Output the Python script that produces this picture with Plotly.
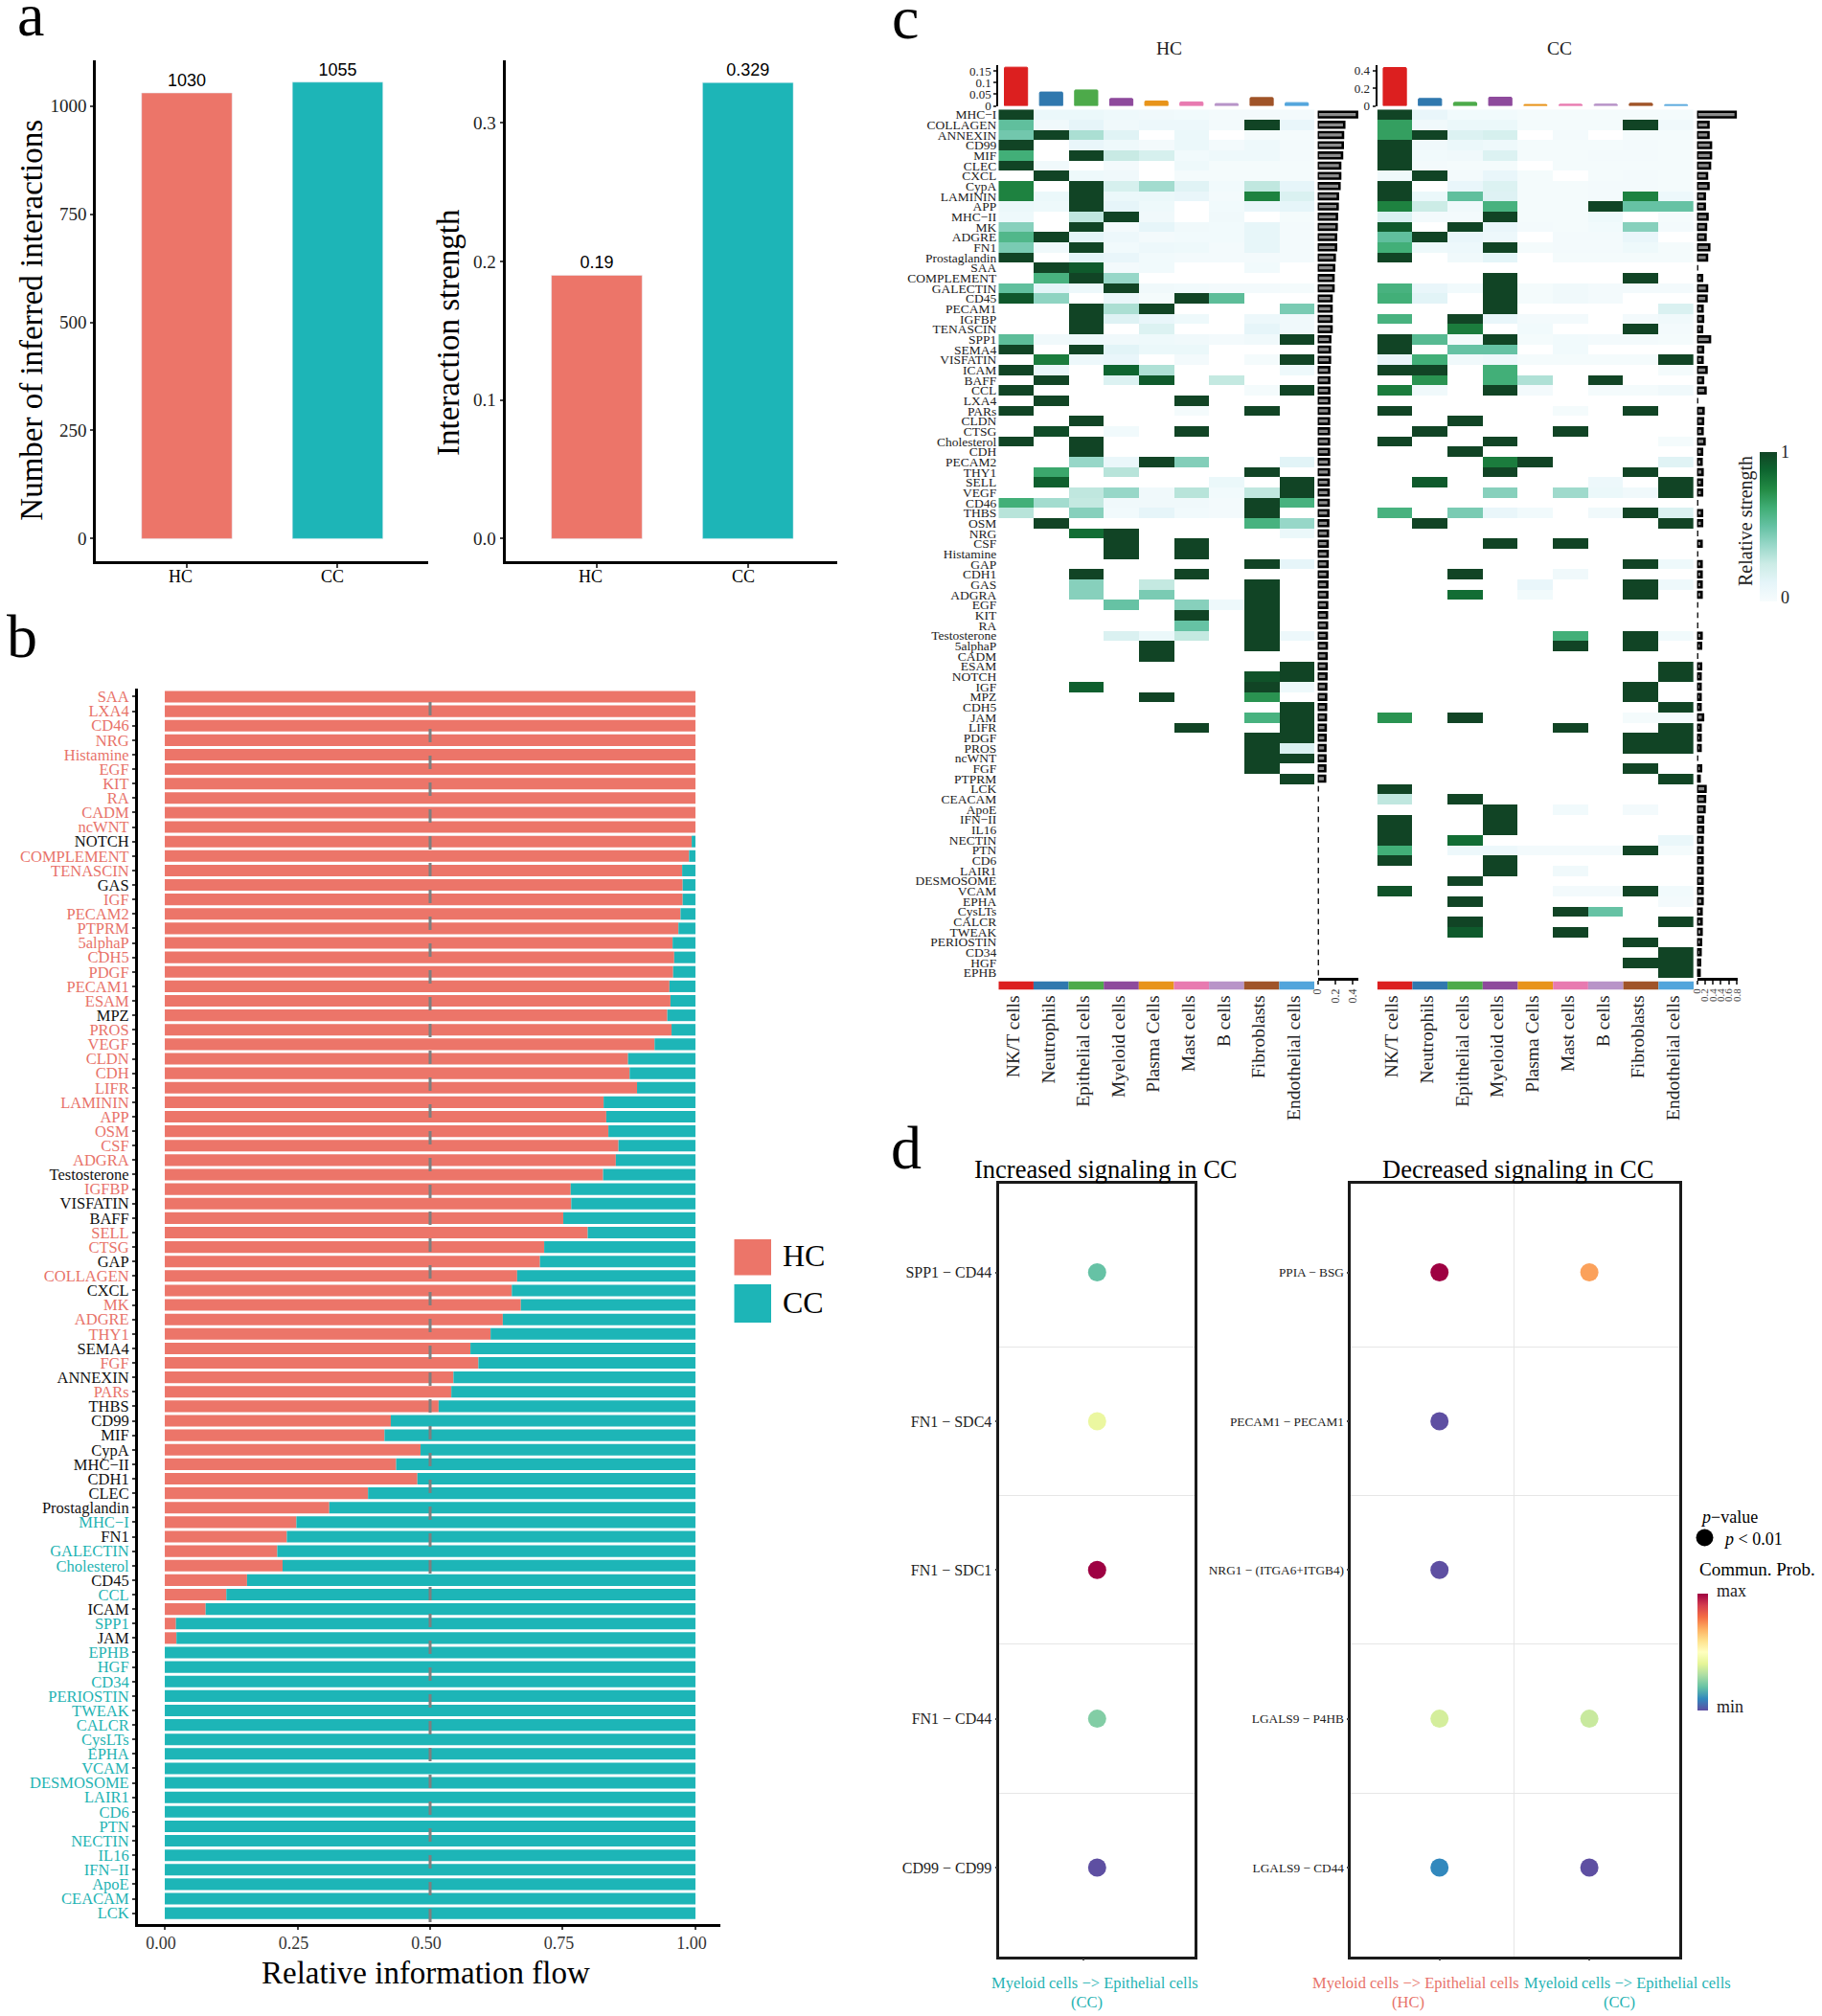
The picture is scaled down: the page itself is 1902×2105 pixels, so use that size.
import plotly.graph_objects as go

W, H = 1902, 2105
n = None
SERIF = "Liberation Serif"
SANS = "Liberation Sans"
RED = "#EC7569"
TEAL = "#1DB5B7"
LABEL_RED = "#E8736A"
LABEL_TEAL = "#1FB3B3"
HEAT_SCALE = [[0, "#F7FCFD"], [.125, "#E5F5F9"], [.25, "#CCECE6"], [.375, "#99D8C9"], [.5, "#66C2A4"],
              [.625, "#41AE76"], [.75, "#238B45"], [.875, "#0E6630"], [1, "#114425"]]

# ---------- panel a ----------
groups = ["HC", "CC"]
n_interactions = [1030, 1055]
strength = [0.19, 0.329]

# ---------- panel b ----------
flow_names = ["SAA","LXA4","CD46","NRG","Histamine","EGF","KIT","RA","CADM","ncWNT","NOTCH","COMPLEMENT","TENASCIN","GAS","IGF","PECAM2","PTPRM","5alphaP","CDH5","PDGF","PECAM1","ESAM","MPZ","PROS","VEGF","CLDN","CDH","LIFR","LAMININ","APP","OSM","CSF","ADGRA","Testosterone","IGFBP","VISFATIN","BAFF","SELL","CTSG","GAP","COLLAGEN","CXCL","MK","ADGRE","THY1","SEMA4","FGF","ANNEXIN","PARs","THBS","CD99","MIF","CypA","MHC−II","CDH1","CLEC","Prostaglandin","MHC−I","FN1","GALECTIN","Cholesterol","CD45","CCL","ICAM","SPP1","JAM","EPHB","HGF","CD34","PERIOSTIN","TWEAK","CALCR","CysLTs","EPHA","VCAM","DESMOSOME","LAIR1","CD6","PTN","NECTIN","IL16","IFN−II","ApoE","CEACAM","LCK"]
flow_hc = [1,1,1,1,1,1,1,1,1,1,.993,.988,.975,.976,.976,.972,.968,.957,.96,.958,.951,.953,.947,.955,.923,.873,.876,.89,.827,.832,.836,.855,.85,.826,.765,.766,.751,.797,.715,.707,.664,.654,.671,.637,.614,.576,.591,.544,.54,.516,.426,.414,.482,.436,.476,.383,.31,.248,.23,.212,.222,.155,.116,.077,.021,.022,0,0,0,0,0,0,0,0,0,0,0,0,0,0,0,0,0,0,0]
flow_cc = [0,0,0,0,0,0,0,0,0,0,.007,.012,.025,.024,.024,.028,.032,.043,.04,.042,.049,.047,.053,.045,.077,.127,.124,.11,.173,.168,.164,.145,.15,.174,.235,.234,.249,.203,.285,.293,.336,.346,.329,.363,.386,.424,.409,.456,.46,.484,.574,.586,.518,.564,.524,.617,.69,.752,.77,.788,.778,.845,.884,.923,.979,.978,1,1,1,1,1,1,1,1,1,1,1,1,1,1,1,1,1,1,1]
black_labels = {"NOTCH","GAS","MPZ","Testosterone","VISFATIN","BAFF","GAP","CXCL","SEMA4","ANNEXIN","THBS","CD99","MIF","CypA","MHC−II","CDH1","CLEC","Prostaglandin","FN1","CD45","ICAM","JAM"}

# ---------- panel c ----------
cell_types = ["NK/T cells","Neutrophils","Epithelial cells","Myeloid cells","Plasma Cells","Mast cells","B cells","Fibroblasts","Endothelial cells"]
cell_colors = ["#DC1F1F","#3078AE","#4DAA4A","#8E4A9C","#E8941A","#E87AB0","#B894C8","#A05428","#52A5DC"]
top_hc = [.168,.06,.069,.032,.021,.017,.01,.036,.014]
top_cc = [.436,.084,.04,.098,.015,.018,.02,.03,.014]
path_names = ["MHC−I","COLLAGEN","ANNEXIN","CD99","MIF","CLEC","CXCL","CypA","LAMININ","APP","MHC−II","MK","ADGRE","FN1","Prostaglandin","SAA","COMPLEMENT","GALECTIN","CD45","PECAM1","IGFBP","TENASCIN","SPP1","SEMA4","VISFATIN","ICAM","BAFF","CCL","LXA4","PARs","CLDN","CTSG","Cholesterol","CDH","PECAM2","THY1","SELL","VEGF","CD46","THBS","OSM","NRG","CSF","Histamine","GAP","CDH1","GAS","ADGRA","EGF","KIT","RA","Testosterone","5alphaP","CADM","ESAM","NOTCH","IGF","MPZ","CDH5","JAM","LIFR","PDGF","PROS","ncWNT","FGF","PTPRM","LCK","CEACAM","ApoE","IFN−II","IL16","NECTIN","PTN","CD6","LAIR1","DESMOSOME","VCAM","EPHA","CysLTs","CALCR","TWEAK","PERIOSTIN","CD34","HGF","EPHB"]
side_hc = [.445,.3,.286,.283,.275,.254,.254,.246,.228,.225,.217,.214,.207,.207,.192,.185,.178,.178,.156,.156,.156,.156,.141,.138,.138,.13,.13,.13,.13,.13,.127,.127,.127,.127,.127,.127,.123,.123,.123,.12,.118,.115,.112,.112,.11,.11,.108,.108,.106,.104,.104,.102,.102,.1,.1,.098,.096,.095,.094,.092,.09,.088,.086,.086,.085,.083,0,0,0,0,0,0,0,0,0,0,0,0,0,0,0,0,0,0,0]
side_cc = [.78,.23,.23,.28,.28,.26,.2,.23,.155,.155,.21,.18,.17,.245,.2,0,.1,.2,.19,.11,.12,.1,.26,.12,.11,.19,.12,.17,0,.13,.12,.11,.15,.1,.09,.11,.1,.1,0,.1,.1,0,.09,0,.09,.09,.09,.09,0,0,0,.09,.08,0,.08,.07,.07,.07,.07,.12,.07,.07,.07,0,.08,.05,.17,.16,.15,.12,.12,.11,.11,.11,.11,.11,.11,.11,.09,.09,.09,.08,.07,.06,.05]
heat_hc = [
 [1,.08,.08,.06,.05,.04,.03,.03,.03],[.52,.05,.12,.05,.07,.07,.03,1,.10],[.47,1,.33,.15,n,.08,n,.02,.02],
 [1,n,.1,.06,.03,.08,.03,.06,.03],[.62,n,1,.26,.2,.04,.06,.06,.03],[1,.05,n,.03,n,.06,.02,.02,.02],
 [n,1,.06,.05,n,.02,.02,.02,.02],[.78,n,1,.2,.35,.15,.04,.28,.12],[.78,.08,1,.08,.08,.1,.03,.78,.18],
 [.08,.06,1,.12,.06,n,.04,.1,.12],[.06,n,.28,1,.05,n,.05,n,.02],[.42,n,1,.03,.12,.05,.04,.11,.03],
 [.57,1,.13,.07,.03,.04,.04,.11,.03],[.45,.05,1,.04,.07,.06,.03,.11,.03],[1,n,.13,.1,.04,.03,.03,.03,.03],
 [n,1,.92,.03,.04,n,n,.04,n],[n,.6,1,.38,n,n,n,n,n],[.52,.13,.07,1,.05,.04,.03,.03,.02],
 [.93,.4,n,.09,.02,1,.53,n,n],[n,n,1,.33,1,n,n,n,.45],[n,n,1,.16,.1,.06,n,.07,.05],
 [n,n,1,n,.17,n,n,.12,.05],[.53,.05,.06,.05,.06,.05,.03,.05,1],[1,n,1,.14,.08,.08,n,n,n],
 [n,.8,.07,.1,n,.03,n,.02,1],[1,.09,n,.88,.32,n,n,n,.06],[n,1,n,.17,.92,n,.27,n,n],
 [1,n,n,n,n,n,n,.02,1],[n,1,n,n,n,1,n,n,n],[1,n,n,n,n,.02,n,1,n],
 [n,n,1,n,n,n,n,n,n],[n,.97,n,.04,n,1,n,n,n],[1,n,1,n,n,n,n,n,n],
 [n,n,1,n,n,n,n,n,n],[n,n,.38,.09,1,.43,n,n,.14],[n,.65,n,.3,n,n,n,1,n],
 [n,.9,n,n,n,n,.08,n,1],[n,n,.28,.38,.05,.3,.04,.28,1],[.62,.35,.27,.05,.05,.05,.03,1,.6],
 [.3,n,.42,.04,.12,.04,.03,1,n],[n,1,n,n,n,n,n,.6,.38],[n,n,.85,1,n,n,n,n,.08],
 [n,n,n,1,n,1,n,n,n],[n,n,n,1,n,1,n,n,n],[n,n,n,n,n,n,n,1,.12],
 [n,n,1,n,n,1,n,n,n],[n,n,.42,n,.27,n,n,1,n],[n,n,.42,n,.45,n,n,1,n],
 [n,n,n,.5,n,.42,.06,1,n],[n,n,n,n,n,1,n,1,n],[n,n,n,n,n,.5,n,1,n],
 [n,n,n,.18,.08,.27,n,1,.07],[n,n,n,n,1,n,n,1,n],[n,n,n,n,1,n,n,n,n],
 [n,n,n,n,n,n,n,n,1],[n,n,n,n,n,n,n,.95,1],[n,n,.9,n,n,n,n,1,.06],
 [n,n,n,n,1,n,n,.72,n],[n,n,n,n,n,n,n,n,1],[n,n,n,n,n,n,n,.6,1],
 [n,n,n,n,n,1,n,n,1],[n,n,n,n,n,n,n,1,1],[n,n,n,n,n,n,n,1,.18],
 [n,n,n,n,n,n,n,1,1],[n,n,n,n,n,n,n,1,n],[n,n,n,n,n,n,n,n,1],
] + [[n]*9 for _ in range(19)]
heat_cc = [
 [1,.1,.04,.04,.02,.02,.02,.02,.02],[.68,.05,.08,.08,.02,.02,.02,1,.05],[.68,1,.17,.2,n,.03,n,.02,.02],
 [1,.05,.08,.06,.02,.02,.02,.03,.02],[1,.04,.05,.17,.02,.02,.03,.03,.02],[1,.03,.02,.02,n,.02,.02,.02,.02],
 [.05,1,.03,.1,.02,n,.02,.03,.02],[1,n,.1,.17,.02,.02,.03,.03,.02],[1,.08,.52,.16,.02,.02,.03,.78,.07],
 [.78,.25,.05,.6,.02,.02,1,.5,.5],[.18,.03,.03,1,.02,.02,.06,n,.02],[.92,n,1,.1,.03,.02,.04,.42,.03],
 [.52,1,.1,.07,n,.03,.03,.1,n],[.62,.06,.07,1,.02,.03,.03,.06,.02],[1,n,.05,.13,n,.02,.02,.02,.02],
 [n]*9,[n,n,n,1,n,n,n,1,n],[.6,.1,.04,1,.02,.05,.03,.03,.03],
 [.62,.14,n,1,.02,.05,.03,n,n],[n,n,n,1,n,n,n,n,.18],[.6,n,1,.1,.03,.03,n,.03,.05],
 [n,n,.8,n,.04,n,n,1,.03],[1,.55,.02,1,.02,.04,.03,.03,.02],[1,n,.5,.5,n,.04,n,n,n],
 [.1,.62,.05,.07,.02,.02,.02,.02,1],[1,1,n,.62,n,n,n,n,.02],[n,.72,n,.62,.32,n,1,n,n],
 [.8,.05,n,1,.03,n,.02,.02,.05],[n]*9,[1,n,n,n,n,.02,n,1,n],
 [n,n,1,n,n,n,n,n,n],[n,1,n,n,n,1,n,n,n],[1,n,n,1,n,n,n,n,.02],
 [n,n,1,n,n,n,n,n,n],[n,n,n,.8,1,n,n,n,.15],[n,n,n,1,n,n,n,1,n],
 [n,.92,n,n,n,n,.07,n,1],[n,n,n,.42,n,.36,.08,.05,1],[n]*9,
 [.6,n,.45,.1,.04,n,.05,1,.18],[n,1,n,n,n,n,n,n,1],[n]*9,
 [n,n,n,1,n,1,n,n,n],[n]*9,[n,n,n,n,n,n,n,1,.06],
 [n,n,1,n,n,.05,n,n,n],[n,n,n,n,.1,n,n,1,.06],[n,n,.85,n,.04,n,n,1,n],
 [n]*9,[n]*9,[n]*9,
 [n,n,n,n,n,.62,n,1,.04],[n,n,n,n,n,1,n,1,n],[n]*9,
 [n,n,n,n,n,n,n,n,1],[n,n,n,n,n,n,n,n,1],[n,n,n,n,n,n,n,1,n],
 [n,n,n,n,n,n,n,1,n],[n,n,n,n,n,n,n,n,1],[.72,n,1,n,n,n,n,.02,.02],
 [n,n,n,n,n,1,n,n,1],[n,n,n,n,n,n,n,1,1],[n,n,n,n,n,n,n,1,1],
 [n]*9,[n,n,n,n,n,n,n,1,n],[n,n,n,n,n,n,n,n,1],
 [1,n,n,n,n,n,n,n,n],[.28,n,1,n,n,n,n,n,n],[n,n,n,1,n,.04,n,.03,n],
 [1,n,n,1,n,n,n,n,n],[1,n,n,1,n,n,n,n,n],[1,n,.85,n,n,n,n,n,.09],
 [.62,n,.07,.07,.03,.03,.03,1,.02],[1,n,n,1,n,n,n,n,n],[n,n,n,1,n,.05,n,n,n],
 [n,n,1,n,n,n,n,n,n],[.95,n,n,n,n,.03,.03,1,.04],[n,n,1,n,n,n,n,n,.03],
 [n,n,n,n,n,1,.5,n,n],[n,n,1,n,n,n,n,n,1],[n,n,.92,n,n,1,n,n,n],
 [n,n,n,n,n,n,n,1,n],[n,n,n,n,n,n,n,n,1],[n,n,n,n,n,n,n,1,1],
 [n,n,n,n,n,n,n,n,1],
]

# ---------- panel d ----------
inc_pairs = ["SPP1 − CD44","FN1 − SDC4","FN1 − SDC1","FN1 − CD44","CD99 − CD99"]
inc_prob = [.2,.42,1,.24,0]
dec_pairs = ["PPIA − BSG","PECAM1 − PECAM1","NRG1 − (ITGA6+ITGB4)","LGALS9 − P4HB","LGALS9 − CD44"]
dec_hc_rows = [0,1,2,3,4]
dec_hc_prob = [1,0,0,.37,.1]
dec_cc_rows = [0,3,4]
dec_cc_prob = [.72,.35,0]

# ---------- helpers ----------
def dx(a, b): return [a / W, b / W]
def dy(top, bottom): return [1 - bottom / H, 1 - top / H]

layout = {}
annots = []
shapes = []

def T(text, x, y, size, color="black", angle=0, anchor="center", family=SERIF):
    annots.append(dict(text=text, x=x / W, y=1 - y / H, xref="paper", yref="paper", showarrow=False,
                       font=dict(size=size, color=color, family=family), textangle=angle,
                       xanchor=anchor, yanchor="middle"))

def ax(name, **kw):
    base = dict(showgrid=False, zeroline=False, ticks="", showticklabels=False, showline=False)
    base.update(kw)
    layout[name] = base

fig = go.Figure()

# ---- a1
ax("xaxis", domain=dx(100.4, 446.6), anchor="y", type="category", categoryorder="array", categoryarray=groups,
   range=[-.601, 1.598], showline=True, linewidth=3, linecolor="black", ticks="outside", ticklen=4, tickwidth=2)
ax("yaxis", domain=dy(63, 586), anchor="x", range=[-52.2, 1105.4], showline=True, linewidth=3, linecolor="black",
   ticks="outside", ticklen=3, tickwidth=2, showticklabels=True, tickmode="array", tickvals=[0, 250, 500, 750, 1000],
   tickfont=dict(size=19, color="#222"))
fig.add_bar(x=groups, y=n_interactions, marker_color=[RED, TEAL], width=.6, text=n_interactions, textposition="outside",
            cliponaxis=False, textfont=dict(size=18, family=SANS, color="black"), xaxis="x", yaxis="y")
T("HC", 188.3, 602, 18); T("CC", 347.3, 602, 18)
T("Number of inferred interactions", 32.7, 334, 33, angle=-90)

# ---- a2
ax("xaxis2", domain=dx(527.5, 874.3), anchor="y2", type="category", categoryorder="array", categoryarray=groups,
   range=[-.605, 1.593], showline=True, linewidth=3, linecolor="black", ticks="outside", ticklen=4, tickwidth=2)
ax("yaxis2", domain=dy(63, 586), anchor="x2", range=[-.0163, .3451], showline=True, linewidth=3, linecolor="black",
   ticks="outside", ticklen=3, tickwidth=2, showticklabels=True, tickmode="array", tickvals=[0, .1, .2, .3],
   ticktext=["0.0", "0.1", "0.2", "0.3"], tickfont=dict(size=19, color="#222"))
fig.add_bar(x=groups, y=strength, marker_color=[RED, TEAL], width=.6, text=strength, textposition="outside",
            cliponaxis=False, textfont=dict(size=18, family=SANS, color="black"), xaxis="x2", yaxis="y2")
T("HC", 616, 602, 18); T("CC", 775.5, 602, 18)
T("Interaction strength", 468, 347, 33, angle=-90)

# ---- b
ticktext_b = []
for i, nm in enumerate(flow_names):
    if nm in black_labels:
        c = "#111111"
    elif flow_hc[i] >= .5:
        c = LABEL_RED
    else:
        c = LABEL_TEAL
    ticktext_b.append('<span style="color:%s">%s</span>' % (c, nm))
ax("xaxis3", domain=dx(144, 752), anchor="y3", range=[-.0506, 1.047], showline=True, linewidth=3, linecolor="black",
   ticks="outside", ticklen=3, tickwidth=1.5, showticklabels=True, tickmode="array", tickvals=[0, .25, .5, .75, 1],
   ticktext=["0.00", "0.25", "0.50", "0.75", "1.00"], tickfont=dict(size=18, color="#333"), ticklabelshift=-4, ticklabelstandoff=-2)
ax("yaxis3", domain=dy(719, 2009), anchor="x3", type="category", categoryorder="array", categoryarray=flow_names,
   range=[84.75, -.56], showline=True, linewidth=3, linecolor="black", ticks="outside", ticklen=3, tickwidth=2,
   showticklabels=True, tickmode="array", tickvals=flow_names, ticktext=ticktext_b, tickfont=dict(size=16.5))
fig.add_bar(y=flow_names, x=flow_hc, orientation="h", marker=dict(color=RED, line_width=0), width=.8, xaxis="x3", yaxis="y3", name="HC")
fig.add_bar(y=flow_names, x=flow_cc, base=flow_hc, orientation="h", marker=dict(color=TEAL, line_width=0), width=.8, xaxis="x3", yaxis="y3", name="CC")
shapes.append(dict(type="line", xref="x3", yref="paper", x0=.5, x1=.5, y0=1 - 2007 / H, y1=1 - 722 / H,
                   line=dict(color="#7F7F7F", width=3, dash="14px,14px"), layer="above"))
T("Relative information flow", 444, 2060, 33)
shapes.append(dict(type="rect", xref="paper", yref="paper", x0=766.5 / W, x1=805 / W, y0=1 - 1331.5 / H, y1=1 - 1294 / H, fillcolor=RED, line_width=0))
shapes.append(dict(type="rect", xref="paper", yref="paper", x0=766.5 / W, x1=805 / W, y0=1 - 1381 / H, y1=1 - 1341 / H, fillcolor=TEAL, line_width=0))
T("HC", 815, 1311, 32, anchor="left"); T("CC", 815, 1360, 32, anchor="left")

# ---- c
def panel_c(idx, x0, x1, top, top_rng, top_ticks, top_text, heat, side, side_x1, side_rng, side_ticks, side_text, side_size, labels, showscale):
    xt, yt = "x%d" % idx, "y%d" % idx
    xh, yh = "x%d" % (idx + 1), "y%d" % (idx + 1)
    xs, ys = "x%d" % (idx + 2), "y%d" % (idx + 2)
    xa, ya = "x%d" % (idx + 3), "y%d" % (idx + 3)
    ax("xaxis%d" % idx, domain=dx(x0, x1), anchor=yt, range=[-.5, 8.5])
    ax("yaxis%d" % idx, domain=dy(68, 110.5), anchor=xt, range=top_rng, showline=True, linewidth=2, linecolor="black",
       ticks="outside", ticklen=3, tickwidth=2, showticklabels=True, tickmode="array", tickvals=top_ticks, ticktext=top_text,
       tickfont=dict(size=13, color="#222"))
    fig.add_bar(x=list(range(9)), y=top, width=.66, marker=dict(color=cell_colors, line=dict(color=cell_colors, width=1), cornerradius=1), xaxis=xt, yaxis=yt)

    ax("xaxis%d" % (idx + 1), domain=dx(x0, x1), anchor=yh, range=[-.5, 8.5])
    ykw = dict(showticklabels=True, tickmode="array", tickvals=path_names, tickfont=dict(size=13.5, color="#222"), ticklabelstandoff=1) if labels else {}
    ax("yaxis%d" % (idx + 1), domain=dy(114.3, 1021), anchor=xh, type="category", categoryorder="array", categoryarray=path_names,
       range=[84.5, -.5], **ykw)
    cb = dict(x=1836.7 / W, xanchor="left", xpad=0, y=1 - 550 / H, yanchor="middle", ypad=0, lenmode="pixels", len=156, thicknessmode="pixels",
              thickness=17.5, outlinewidth=0, tickmode="array", tickvals=[.03, 1], ticktext=["0", "1"], ticks="", tickfont=dict(size=18, color="#222"))
    fig.add_heatmap(z=heat, x=list(range(9)), y=path_names, zmin=0, zmax=1, colorscale=HEAT_SCALE, showscale=showscale,
                    colorbar=cb if showscale else None, xaxis=xh, yaxis=yh)

    ax("xaxis%d" % (idx + 2), domain=dx(x1 + 3.6, side_x1), anchor=ys, range=side_rng, showline=True, linewidth=2.5, linecolor="black",
       ticks="outside", ticklen=4, tickwidth=2, showticklabels=True, tickmode="array", tickvals=side_ticks, ticktext=side_text,
       tickangle=-90, tickfont=dict(size=side_size, color="#444"))
    ax("yaxis%d" % (idx + 2), domain=dy(114.3, 1021), anchor=xs, type="category", categoryorder="array", categoryarray=path_names, range=[84.5, -.5])
    fig.add_bar(y=path_names, x=side, orientation="h", width=.55, marker=dict(color="#8C8C8C", line=dict(color="black", width=2.6)), cliponaxis=False, xaxis=xs, yaxis=ys)

    ax("xaxis%d" % (idx + 3), domain=dx(x0, x1), anchor=ya, type="category", categoryorder="array", categoryarray=cell_types, range=[-.5, 8.5],
       showticklabels=True, tickmode="array", tickvals=cell_types, tickangle=-90, tickfont=dict(size=19.5, color="#222"), ticklabelstandoff=1, ticklabelshift=-3)
    ax("yaxis%d" % (idx + 3), domain=dy(1024.5, 1033.5), anchor=xa, range=[0, 1])
    fig.add_bar(x=cell_types, y=[1] * 9, width=1, marker=dict(color=cell_colors, line_width=0), xaxis=xa, yaxis=ya)

panel_c(4, 1042.3, 1372, top_hc, [0, .177], [0, .05, .1, .15], ["0", "0.05", "0.1", "0.15"], heat_hc, side_hc, 1418, [0, .46],
        [0, .2, .4], ["0", "0.2", "0.4"], 12, True, True)
panel_c(8, 1437.7, 1768, top_cc, [0, .4635], [0, .2, .4], ["0", "0.2", "0.4"], heat_cc, side_cc, 1813.5, [0, .81],
        [0, .16, .32, .48, .64, .8], ["0", "0.2", "0.4", "0.4", "0.6", "0.8"], 11, False, False)
T("HC", 1220, 50.7, 19.5, color="#222"); T("CC", 1628, 50.7, 19.5, color="#222")
T("Relative strength", 1822, 544, 20, angle=-90, color="#222")

# ---- d
spectral = "Spectral"
rows5 = [0, 1, 2, 3, 4]
ax("xaxis12", domain=dx(1043.3, 1247.3), anchor="y12", range=[-.5, .5], showline=True, mirror=True, linewidth=2.5, linecolor="#1a1a1a",
   ticks="outside", ticklen=2, tickwidth=1.5, tickmode="array", tickvals=[-.07])
ax("yaxis12", domain=dy(1236.3, 2042.7), anchor="x12", range=[4.597, -.594], showline=True, mirror=True, linewidth=2.5, linecolor="#1a1a1a",
   ticks="outside", ticklen=2, tickwidth=1.5, showticklabels=True, tickmode="array", tickvals=rows5, ticktext=inc_pairs,
   tickfont=dict(size=16, color="#222"), minor=dict(tickvals=[.5, 1.5, 2.5, 3.5], showgrid=True, gridcolor="#E6E6E6", gridwidth=1, ticks=""))
fig.add_scatter(x=[0] * 5, y=rows5, mode="markers", marker=dict(size=19, color=inc_prob, cmin=0, cmax=1, colorscale=spectral, reversescale=True, line_width=0),
                xaxis="x12", yaxis="y12")
ax("xaxis13", domain=dx(1410.4, 1753), anchor="y13", range=[-.59, 1.6], showline=True, mirror=True, linewidth=2.5, linecolor="#1a1a1a",
   ticks="outside", ticklen=2, tickwidth=1.5, tickmode="array", tickvals=[0, 1],
   minor=dict(tickvals=[.5], showgrid=True, gridcolor="#E6E6E6", gridwidth=1, ticks=""))
ax("yaxis13", domain=dy(1236.3, 2042.7), anchor="x13", range=[4.597, -.594], showline=True, mirror=True, linewidth=2.5, linecolor="#1a1a1a",
   ticks="outside", ticklen=2, tickwidth=1.5, showticklabels=True, tickmode="array", tickvals=rows5, ticktext=dec_pairs,
   tickfont=dict(size=13.3, color="#222"), minor=dict(tickvals=[.5, 1.5, 2.5, 3.5], showgrid=True, gridcolor="#E6E6E6", gridwidth=1, ticks=""))
fig.add_scatter(x=[0] * len(dec_hc_rows) + [1] * len(dec_cc_rows), y=dec_hc_rows + dec_cc_rows, mode="markers",
                marker=dict(size=19, color=dec_hc_prob + dec_cc_prob, cmin=0, cmax=1, colorscale=spectral, reversescale=True, line_width=0,
                            showscale=True,
                            colorbar=dict(x=1772 / W, xanchor="left", xpad=0, y=1 - 1725 / H, yanchor="middle", ypad=0, lenmode="pixels", len=121.6,
                                          thicknessmode="pixels", thickness=10.5, outlinewidth=0, showticklabels=False, ticks="")),
                xaxis="x13", yaxis="y13")
# p-value legend dot
ax("xaxis14", domain=dx(1769, 1790), anchor="y14", range=[0, 1])
ax("yaxis14", domain=dy(1595, 1616), anchor="x14", range=[0, 1])
fig.add_scatter(x=[.5], y=[.5], mode="markers", marker=dict(size=18, color="black"), xaxis="x14", yaxis="y14")

T("Increased signaling in CC", 1154, 1221, 26.5)
T("Decreased signaling in CC", 1584.6, 1221, 26.5)
T("<i>p</i>−value", 1773, 1584, 18, anchor="left")
T("<i>p</i> < 0.01", 1797, 1607, 18, anchor="left")
T("Commun. Prob.", 1772, 1638, 19, anchor="left")
T("max", 1790, 1661, 18, anchor="left", color="#222")
T("min", 1790, 1781.5, 18, anchor="left", color="#222")
T("Myeloid cells −> Epithelial cells", 1142.7, 2070, 16.5, color=LABEL_TEAL)
T("(CC)", 1134, 2090, 16.5, color=LABEL_TEAL)
T("Myeloid cells −> Epithelial cells", 1478, 2070, 16.5, color=LABEL_RED)
T("(HC)", 1470, 2090, 16.5, color=LABEL_RED)
T("Myeloid cells −> Epithelial cells", 1698.5, 2070, 16.5, color=LABEL_TEAL)
T("(CC)", 1690, 2090, 16.5, color=LABEL_TEAL)

# panel letters
T("a", 32, 15.5, 64); T("b", 23, 664.5, 64); T("c", 945, 18, 64); T("d", 946, 1198.5, 64)

fig.update_layout(width=W, height=H, margin=dict(l=0, r=0, t=0, b=0, autoexpand=False), paper_bgcolor="white", plot_bgcolor="white",
                  showlegend=False, barmode="overlay", font=dict(family=SERIF, color="black"), annotations=annots, shapes=shapes, **layout)
fig.write_html("out.html", config={"displayModeBar": False},
               post_script="document.body.style.margin='0';document.documentElement.style.overflow='hidden';")
